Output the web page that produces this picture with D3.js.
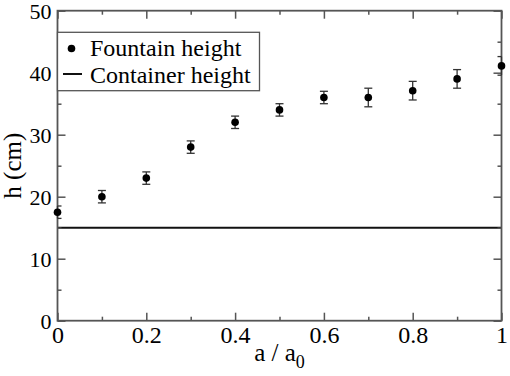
<!DOCTYPE html>
<html><head><meta charset="utf-8">
<script src="https://cdn.jsdelivr.net/npm/d3@7"></script>
</head><body style="margin:0">
<script>
const ratio = [0, 0.1, 0.2, 0.3, 0.4, 0.5, 0.6, 0.7, 0.8, 0.9, 1.0];
const fountainHeight = [17.5, 20, 23, 28, 32, 34, 36, 36, 37.1, 39, 41.1];
const fountainError = [1, 1, 1, 1, 1, 1, 1, 1.5, 1.5, 1.5, 1.5];
const containerHeight = 15;
const xTickValues = [0, 0.2, 0.4, 0.6, 0.8, 1];
const xTickLabels = ["0", "0.2", "0.4", "0.6", "0.8", "1"];
const yTickValues = [0, 10, 20, 30, 40, 50];
const yTickLabels = ["0", "10", "20", "30", "40", "50"];
const legendLabels = ["Fountain height", "Container height"];

const W = 510, H = 376;
const L = 57.5, R = 501.5, T = 10.7, B = 320.7;
const font = "Times New Roman";
const svg = d3.select("body").append("svg").attr("width", W).attr("height", H)
  .attr("font-family", font);
const x = d3.scaleLinear().domain([0, 1]).range([L, R]);
const y = d3.scaleLinear().domain([0, 50]).range([B, T]);
const axisColor = "#555";

// container line
svg.append("line").attr("x1", x(0)).attr("x2", x(1))
  .attr("y1", y(containerHeight)).attr("y2", y(containerHeight))
  .attr("stroke", "#111").attr("stroke-width", 2);

function styleAxis(g) {
  g.attr("font-family", font);
  g.select(".domain").remove();
  g.selectAll(".tick line").attr("stroke", axisColor).attr("stroke-width", 1.5);
}
const xMinor = d3.range(0.1, 1, 0.2);
const yMinor = d3.range(5, 50, 10);

const gxB = svg.append("g").attr("transform", `translate(0,${B})`)
  .call(d3.axisBottom(x).tickValues(xTickValues).tickSize(-8).tickPadding(5)
    .tickFormat((d, i) => xTickLabels[i]));
styleAxis(gxB);
gxB.selectAll(".tick text").attr("font-family", font).attr("font-size", 24).attr("fill", "#000").attr("dy", "0.71em");
svg.append("g").attr("transform", `translate(0,${B})`)
  .call(d3.axisBottom(x).tickValues(xMinor).tickSize(-4).tickFormat("")).call(styleAxis);

svg.append("g").attr("transform", `translate(0,${T})`)
  .call(d3.axisTop(x).tickValues(xTickValues).tickSize(-8).tickFormat("")).call(styleAxis);
svg.append("g").attr("transform", `translate(0,${T})`)
  .call(d3.axisTop(x).tickValues(xMinor).tickSize(-4).tickFormat("")).call(styleAxis);

const gyL = svg.append("g").attr("transform", `translate(${L},0)`)
  .call(d3.axisLeft(y).tickValues(yTickValues).tickSize(-8).tickPadding(6)
    .tickFormat((d, i) => yTickLabels[i]));
styleAxis(gyL);
gyL.selectAll(".tick text").attr("font-family", font).attr("font-size", 22).attr("fill", "#000").attr("dy", "0.34em");
svg.append("g").attr("transform", `translate(${L},0)`)
  .call(d3.axisLeft(y).tickValues(yMinor).tickSize(-4).tickFormat("")).call(styleAxis);

svg.append("g").attr("transform", `translate(${R},0)`)
  .call(d3.axisRight(y).tickValues(yTickValues).tickSize(-8).tickFormat("")).call(styleAxis);
svg.append("g").attr("transform", `translate(${R},0)`)
  .call(d3.axisRight(y).tickValues(yMinor).tickSize(-4).tickFormat("")).call(styleAxis);

// frame
svg.append("rect").attr("x", L).attr("y", T).attr("width", R - L).attr("height", B - T)
  .attr("fill", "none").attr("stroke", axisColor).attr("stroke-width", 1.8);

// error bars (caps clipped to plot area)
const data = ratio.map((r, i) => ({ r, h: fountainHeight[i], e: fountainError[i] }));
const eb = svg.append("g").attr("stroke", "#333").attr("stroke-width", 1.3);
const capW = 4;
data.forEach(d => {
  const cx = x(d.r);
  const x1 = Math.max(L, cx - capW), x2 = Math.min(R, cx + capW);
  eb.append("line").attr("x1", cx).attr("x2", cx).attr("y1", y(d.h - d.e)).attr("y2", y(d.h + d.e));
  eb.append("line").attr("x1", x1).attr("x2", x2).attr("y1", y(d.h - d.e)).attr("y2", y(d.h - d.e));
  eb.append("line").attr("x1", x1).attr("x2", x2).attr("y1", y(d.h + d.e)).attr("y2", y(d.h + d.e));
});
svg.append("g").selectAll("circle").data(data).join("circle")
  .attr("cx", d => x(d.r)).attr("cy", d => y(d.h)).attr("r", 3.8).attr("fill", "#000");

// legend
const lg = svg.append("g");
lg.append("rect").attr("x", L).attr("y", 32.3).attr("width", 202).attr("height", 58.4)
  .attr("fill", "#fff").attr("stroke", axisColor).attr("stroke-width", 1.3);
lg.append("circle").attr("cx", 71.5).attr("cy", 48.5).attr("r", 3.8).attr("fill", "#000");
lg.append("line").attr("x1", 63).attr("x2", 82).attr("y1", 74).attr("y2", 74).attr("stroke", "#111").attr("stroke-width", 2);
lg.append("text").attr("x", 90).attr("y", 55.5).attr("font-family", font).attr("font-size", 24)
  .attr("fill", "#000").text(legendLabels[0]);
lg.append("text").attr("x", 90).attr("y", 82.5).attr("font-family", font).attr("font-size", 24)
  .attr("fill", "#000").text(legendLabels[1]);

// axis titles
svg.append("text").attr("transform", `translate(21,${(T + B) / 2}) rotate(-90)`)
  .attr("text-anchor", "middle").attr("font-family", font).attr("font-size", 25).attr("fill", "#000")
  .text("h (cm)");
const xt = svg.append("text").attr("x", (L + R) / 2).attr("y", 361)
  .attr("text-anchor", "middle").attr("font-family", font).attr("font-size", 25).attr("fill", "#000");
xt.append("tspan").text("a / a");
xt.append("tspan").attr("font-size", 18).attr("dy", 7).text("0");
</script>
</body></html>
